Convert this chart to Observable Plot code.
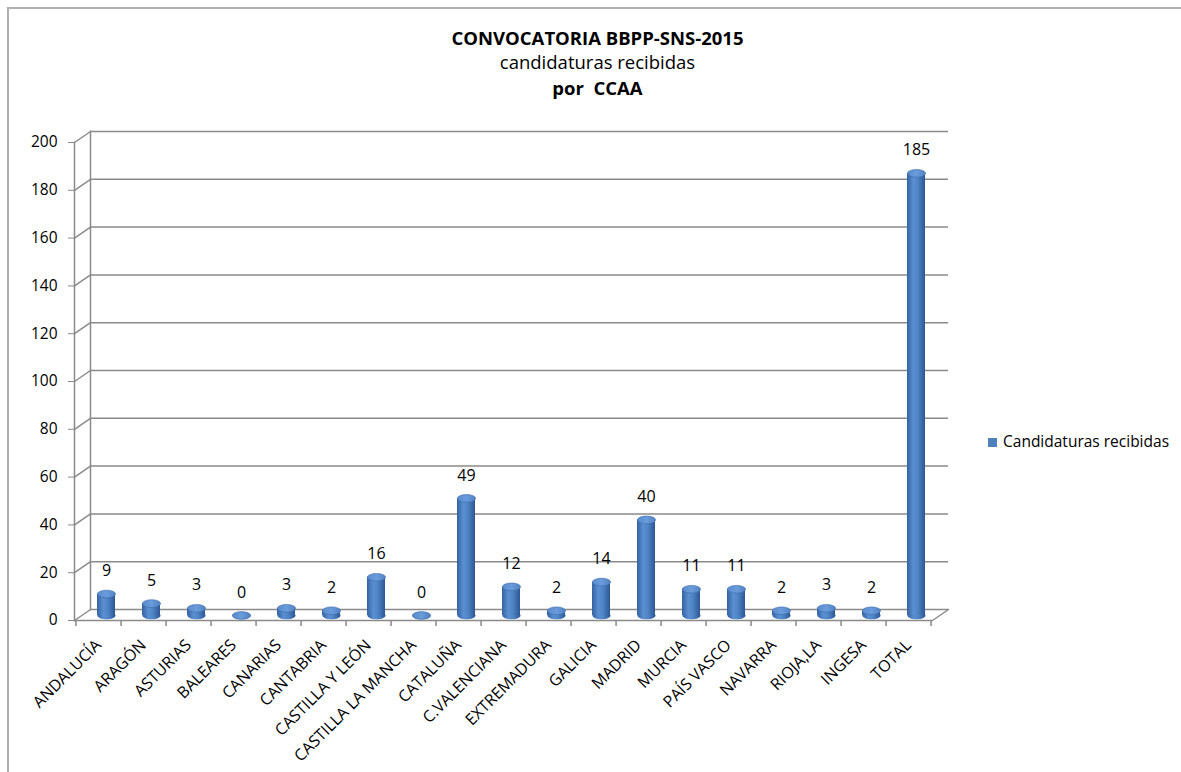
<!DOCTYPE html>
<html><head><meta charset="utf-8">
<script src="https://cdn.jsdelivr.net/npm/d3@7"></script>
<script src="https://cdn.jsdelivr.net/npm/@observablehq/plot@0.6"></script>
<style>
body{margin:0;background:#fff;font-family:"Open Sans",sans-serif;color:#000;}
#wrap{position:relative;width:1181px;height:772px;overflow:hidden;background:#fff;}
.bt{position:absolute;left:7px;top:7px;right:0;height:2px;background:#b0b0b0;}
.bl{position:absolute;left:7px;top:7px;bottom:0;width:2px;background:#b0b0b0;}
.t{position:absolute;left:7px;width:1181px;text-align:center;line-height:22px;white-space:nowrap;}
#t1{top:27px;font-weight:700;font-size:18.5px;}
#t2{top:51px;font-size:18.5px;}
#t3{top:77px;font-weight:700;font-size:18.5px;}
#chart{position:absolute;left:0;top:110px;}
#legend{position:absolute;left:988px;top:430px;font-size:15.5px;line-height:22px;white-space:nowrap;}
#legend span.sw{display:inline-block;width:9px;height:9px;background:#4F81BD;margin-right:6px;vertical-align:0px;}
</style>
</head><body>
<div id="wrap">
  <div class="bt"></div><div class="bl"></div>
  <div class="t" id="t1">CONVOCATORIA BBPP-SNS-2015</div>
  <div class="t" id="t2">candidaturas recibidas</div>
  <div class="t" id="t3">por&nbsp; CCAA</div>
  <div id="chart"></div>
  <div id="legend"><span class="sw"></span>Candidaturas recibidas</div>
</div>
<script>
const categories = ["ANDALUCÍA","ARAGÓN","ASTURIAS","BALEARES","CANARIAS","CANTABRIA","CASTILLA Y LEÓN","CASTILLA LA MANCHA","CATALUÑA","C.VALENCIANA","EXTREMADURA","GALICIA","MADRID","MURCIA","PAÍS VASCO","NAVARRA","RIOJA,LA","INGESA","TOTAL"];
const values = [9,5,3,0,3,2,16,0,49,12,2,14,40,11,11,2,3,2,185];
const yTicks = [0,20,40,60,80,100,120,140,160,180,200];

const data = categories.map((c, i) => ({cat: c, value: values[i]}));

const W = 1181, H = 662, ML = 74, MR = 249, MT = 32, MB = 152;
const step = (W - ML - MR) / categories.length;
const depthDx = 16, depthDy = -11;
const barDx = 8, barDy = -5;
const gridColor = "#8a8a8a";

const ellipse = {draw(ctx, size) {
  const r = Math.sqrt(size / Math.PI), rx = r, ry = r * 0.42, k = 0.5523;
  ctx.moveTo(rx, 0);
  ctx.bezierCurveTo(rx, ry * k, rx * k, ry, 0, ry);
  ctx.bezierCurveTo(-rx * k, ry, -rx, ry * k, -rx, 0);
  ctx.bezierCurveTo(-rx, -ry * k, -rx * k, -ry, 0, -ry);
  ctx.bezierCurveTo(rx * k, -ry, rx, -ry * k, rx, 0);
  ctx.closePath();
}};
const lineShape = {draw(ctx, l) { ctx.moveTo(0, 0); ctx.lineTo(0, -l); }};
const diagLen = Math.hypot(depthDx, depthDy);
const diagAngle = Math.atan2(depthDx, -depthDy) * 180 / Math.PI;

const chart = Plot.plot({
  width: W, height: H,
  marginLeft: ML, marginRight: MR, marginTop: MT, marginBottom: MB,
  style: {fontFamily: "'Open Sans', sans-serif", color: "#000", background: "transparent"},
  x: {type: "band", domain: categories, paddingInner: 0.6, paddingOuter: 0.3, label: null},
  y: {domain: [0, 200], label: null},
  marks: [
    Plot.ruleY(yTicks, {dx: depthDx, dy: depthDy, stroke: gridColor, strokeWidth: 1.5}),
    Plot.frame({anchor: "left", dx: depthDx, dy: depthDy, stroke: gridColor, strokeWidth: 1.5}),
    Plot.vector(yTicks, {y: d => d, frameAnchor: "left", length: diagLen, rotate: diagAngle, anchor: "start", shape: lineShape, stroke: gridColor, strokeWidth: 1.5}),
    Plot.vector([0], {y: d => d, frameAnchor: "right", length: diagLen, rotate: diagAngle, anchor: "start", shape: lineShape, stroke: gridColor, strokeWidth: 1.5}),
    Plot.frame({anchor: "left", stroke: gridColor, strokeWidth: 1.5}),
    Plot.ruleY([0], {stroke: gridColor, strokeWidth: 1.5}),
    Plot.ruleX(categories, {x: d => d, y1: 0, y2: 0, insetBottom: -6, dx: step / 2, stroke: gridColor, strokeWidth: 1.5}),
    Plot.ruleX([categories[0]], {x: d => d, y1: 0, y2: 0, insetBottom: -6, dx: -step / 2, stroke: gridColor, strokeWidth: 1.5}),
    Plot.dot(data, {x: "cat", y: 0, r: step * 0.2, symbol: ellipse, fill: "url(#cyl)", dx: barDx, dy: barDy}),
    Plot.barY(data, {x: "cat", y: "value", fill: "url(#cyl)", dx: barDx, dy: barDy}),
    Plot.dot(data, {x: "cat", y: "value", r: step * 0.2, symbol: ellipse, fill: "url(#cylTop)", stroke: "#3d6cad", strokeWidth: 0.6, dx: barDx, dy: barDy}),
    Plot.text(data, {x: "cat", y: "value", text: d => String(d.value), dx: barDx, dy: -28, fontSize: 16, fill: "#000"}),
    Plot.axisY({ticks: yTicks, tickSize: 6, tickPadding: 11, fontSize: 15.5, stroke: gridColor, fill: "#000"}),
    Plot.axisX({tickSize: 0, tickPadding: 22, tickRotate: -45, fontSize: 16, fill: "#000"})
  ]
});

const svg = chart.tagName.toLowerCase() === "svg" ? chart : chart.querySelector("svg");
const ns = "http://www.w3.org/2000/svg";
const defs = document.createElementNS(ns, "defs");
function grad(id, stops) {
  const g = document.createElementNS(ns, "linearGradient");
  g.setAttribute("id", id);
  g.setAttribute("x1", "0"); g.setAttribute("x2", "1"); g.setAttribute("y1", "0"); g.setAttribute("y2", "0");
  for (const [o, c] of stops) {
    const s = document.createElementNS(ns, "stop");
    s.setAttribute("offset", o); s.setAttribute("stop-color", c);
    g.appendChild(s);
  }
  defs.appendChild(g);
}
grad("cyl", [["0", "#3562a0"], ["0.35", "#5a8fd2"], ["0.6", "#4f84c6"], ["1", "#2d5792"]]);
grad("cylTop", [["0", "#5a8bcc"], ["0.5", "#6a9bdb"], ["1", "#5282c2"]]);
svg.insertBefore(defs, svg.firstChild);
document.getElementById("chart").appendChild(chart);
</script>
</body></html>
